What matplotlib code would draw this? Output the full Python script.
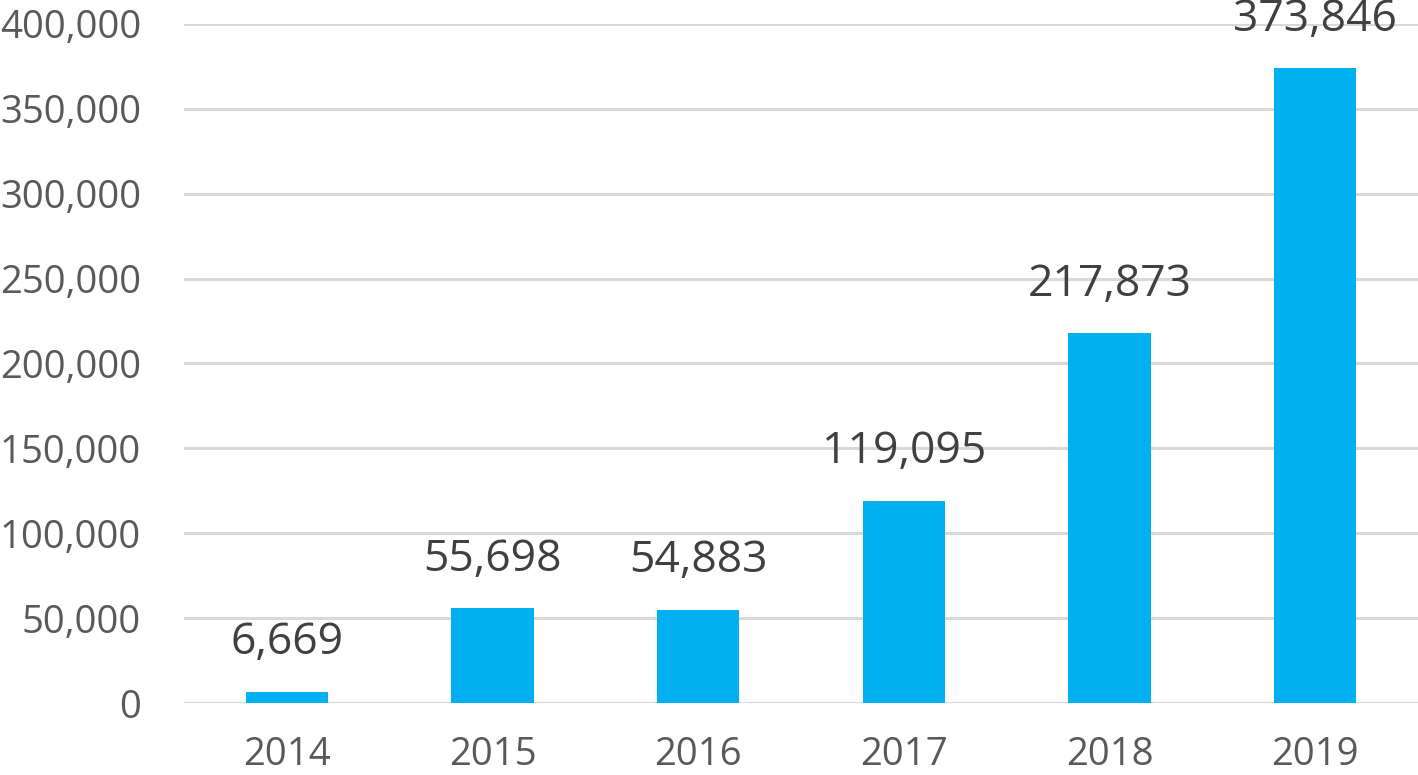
import matplotlib
matplotlib.use("Agg")
import matplotlib.pyplot as plt
from matplotlib.ticker import FuncFormatter

years = ["2014", "2015", "2016", "2017", "2018", "2019"]
values = [6669, 55698, 54883, 119095, 217873, 373846]
yticks = [0, 50000, 100000, 150000, 200000, 250000, 300000, 350000, 400000]

plt.rcParams['font.family'] = ['Open Sans', 'DejaVu Sans']

fig = plt.figure(figsize=(14.18, 7.75), dpi=100)
ax = fig.add_axes([184/1418, 72/775, 1 - 184/1418, (703-24)/775])

x = list(range(len(years)))
ax.bar(x, values, width=0.4, color="#00B0F0", zorder=3)
ax.set_xlim(-0.5, len(years) - 0.5)
ax.set_ylim(0, 400000)
ax.set_yticks(yticks)
ax.yaxis.set_major_formatter(FuncFormatter(lambda v, p: f"{int(v):,}"))
ax.set_xticks(x)
ax.set_xticklabels(years)
ax.grid(axis="y", color="#D9D9D9", linewidth=2.2, zorder=0)
for s in ax.spines.values():
    s.set_visible(False)
ax.tick_params(axis="both", length=0, labelsize=27.5, labelcolor="#595959")
ax.tick_params(axis="y", pad=31)
ax.tick_params(axis="x", pad=24)

for xi, v in zip(x, values):
    ax.annotate(f"{v:,}", (xi, v), xytext=(0, 19), textcoords="offset points",
                ha="center", va="bottom", fontsize=32, color="#404040",
                annotation_clip=False)

fig.savefig("out.png", dpi=100)
